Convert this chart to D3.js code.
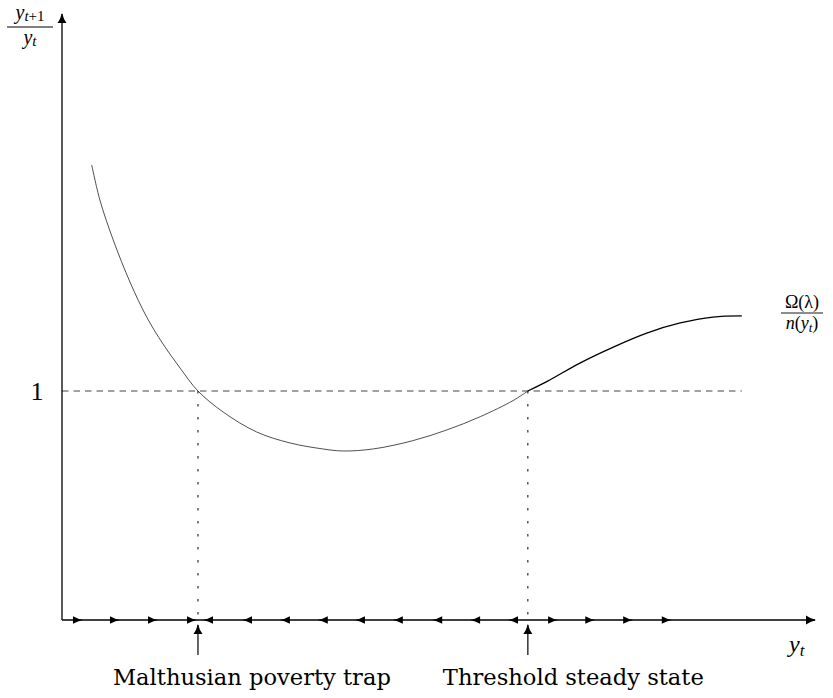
<!DOCTYPE html>
<html>
<head>
<meta charset="utf-8">
<script src="https://cdn.jsdelivr.net/npm/d3@7"></script>
<style>
  body { margin: 0; background: #fff; }
  text { font-family: "Liberation Serif", "DejaVu Serif", serif; fill: #000; }
  .math { font-style: italic; }
  .lab { font-family: "DejaVu Serif", "Liberation Serif", serif; }
</style>
</head>
<body>
<div id="chart-area"></div>
<script>
// curve y_{t+1}/y_t
var curveX = [0.40, 0.51, 0.69, 0.92, 1.14, 1.36, 1.59, 1.83, 2.17, 2.62, 3.07, 3.51, 3.78,
              4.19, 4.72, 5.18, 5.63, 6.07, 6.27, 6.53, 6.97, 7.42, 7.87, 8.32, 8.76, 9.15];
var curveY = [1.987, 1.834, 1.659, 1.472, 1.323, 1.205, 1.100, 1.000, 0.908, 0.821, 0.773, 0.747, 0.738,
              0.747, 0.783, 0.830, 0.888, 0.958, 1.000, 1.042, 1.122, 1.192, 1.253, 1.297, 1.323, 1.328];

// steady states and their labels
var steadyX = [1.83, 6.27];
var steadyLabels = ["Malthusian poverty trap", "Threshold steady state"];

// little flow arrows on the horizontal axis
var arrowsRight = [0.215, 0.713, 1.225, 1.75, 6.61, 7.11, 7.62, 8.14];
var arrowsLeft = [1.965, 2.49, 3.0, 3.51, 4.01, 4.52, 5.05, 5.56, 6.07];

var oneLevel = 1;

var width = 833, height = 698;

var svg = d3.select("#chart-area")
	.append("svg")
		.attr("width", width)
		.attr("height", height);

var x = d3.scaleLinear().domain([0, 10]).range([62, 805]);
var y = d3.scaleLinear().domain([0, 1]).range([620, 391]);

var defs = svg.append("defs");
defs.append("marker")
	.attr("id", "head")
	.attr("viewBox", "0 -5 10 10")
	.attr("refX", 9)
	.attr("refY", 0)
	.attr("markerUnits", "userSpaceOnUse")
	.attr("markerWidth", 11)
	.attr("markerHeight", 10)
	.attr("orient", "auto")
	.append("path")
		.attr("d", "M10,0 Q4,-1.5 0,-4.5 L0,4.5 Q4,1.5 10,0Z")
		.attr("fill", "#000");

// dashed level 1
svg.append("line")
	.attr("x1", x(0)).attr("x2", x(d3.max(curveX)))
	.attr("y1", y(oneLevel)).attr("y2", y(oneLevel))
	.attr("stroke", "#444")
	.attr("stroke-width", 1)
	.attr("stroke-dasharray", "6.5,5");

// dotted drops from the steady states
svg.selectAll(".drop")
	.data(steadyX).enter()
	.append("line")
		.attr("class", "drop")
		.attr("x1", function(d) { return x(d); })
		.attr("x2", function(d) { return x(d); })
		.attr("y1", y(oneLevel))
		.attr("y2", y(0))
		.attr("stroke", "#000")
		.attr("stroke-width", 1)
		.attr("stroke-dasharray", "2.5,10.5");

// curve: thin before the threshold, thicker after it
var pts = curveX.map(function(d, i) { return [d, curveY[i]]; });
var split = curveX.indexOf(steadyX[1]);
var line = d3.line()
	.x(function(d) { return x(d[0]); })
	.y(function(d) { return y(d[1]); })
	.curve(d3.curveCatmullRom.alpha(0.5));

svg.append("path")
	.attr("d", line(pts.slice(0, split + 1)))
	.attr("fill", "none")
	.attr("stroke", "#222")
	.attr("stroke-width", 0.8);

svg.append("path")
	.attr("d", line(pts.slice(split)))
	.attr("fill", "none")
	.attr("stroke", "#000")
	.attr("stroke-width", 1.3);

// axes
svg.append("line")
	.attr("x1", x(0)).attr("y1", y(0))
	.attr("x2", x(0)).attr("y2", 14)
	.attr("stroke", "#000").attr("stroke-width", 1.3)
	.attr("marker-end", "url(#head)");

svg.append("line")
	.attr("x1", x(0)).attr("y1", y(0))
	.attr("x2", 815).attr("y2", y(0))
	.attr("stroke", "#000").attr("stroke-width", 1.3)
	.attr("marker-end", "url(#head)");

// flow arrows
var small = "M5,0 Q0,-1 -5,-3.8 L-5,3.8 Q0,1 5,0Z";
svg.selectAll(".fr")
	.data(arrowsRight).enter()
	.append("path")
		.attr("class", "fr")
		.attr("d", small)
		.attr("transform", function(d) { return "translate(" + x(d) + "," + y(0) + ")"; })
		.attr("fill", "#000");

svg.selectAll(".fl")
	.data(arrowsLeft).enter()
	.append("path")
		.attr("class", "fl")
		.attr("d", small)
		.attr("transform", function(d) { return "translate(" + x(d) + "," + y(0) + ") rotate(180)"; })
		.attr("fill", "#000");

// pointers up to the steady states
svg.selectAll(".ptr")
	.data(steadyX).enter()
	.append("line")
		.attr("class", "ptr")
		.attr("x1", function(d) { return x(d); })
		.attr("x2", function(d) { return x(d); })
		.attr("y1", 655)
		.attr("y2", 625)
		.attr("stroke", "#000")
		.attr("stroke-width", 1.2)
		.attr("marker-end", "url(#head)");

svg.selectAll(".lab")
	.data(steadyLabels).enter()
	.append("text")
		.attr("class", "lab")
		.attr("x", function(d, i) { return x(steadyX[i]) - 85; })
		.attr("y", 685)
		.attr("font-size", "22.6px")
		.attr("text-anchor", "start")
		.text(function(d) { return d; });

// "1" tick label
svg.append("text")
	.attr("x", 37)
	.attr("y", y(oneLevel) + 9)
	.attr("font-size", "26px")
	.attr("text-anchor", "middle")
	.text("1");

// y label: y_{t+1} / y_t
var yl = svg.append("g").attr("transform", "translate(30,0)");
var num = yl.append("text").attr("y", 19).attr("font-size", "20px").attr("text-anchor", "middle");
num.append("tspan").attr("class", "math").text("y");
num.append("tspan").attr("class", "math").attr("font-size", "15px").attr("dy", 2).text("t");
num.append("tspan").attr("font-size", "15px").text("+1");
yl.append("line").attr("x1", -23).attr("x2", 23).attr("y1", 27).attr("y2", 27)
	.attr("stroke", "#000").attr("stroke-width", 1);
var den = yl.append("text").attr("y", 44).attr("font-size", "20px").attr("text-anchor", "middle");
den.append("tspan").attr("class", "math").text("y");
den.append("tspan").attr("class", "math").attr("font-size", "15px").attr("dy", 2).text("t");

// curve label: Omega(lambda) / n(y_t)
var cl = svg.append("g").attr("transform", "translate(802,0)");
cl.append("text").attr("y", 308).attr("font-size", "18px").attr("text-anchor", "middle").text("Ω(λ)");
cl.append("line").attr("x1", -21).attr("x2", 21).attr("y1", 313).attr("y2", 313)
	.attr("stroke", "#000").attr("stroke-width", 0.9);
var cd = cl.append("text").attr("y", 329).attr("font-size", "18px").attr("text-anchor", "middle");
cd.append("tspan").attr("class", "math").text("n");
cd.append("tspan").text("(");
cd.append("tspan").attr("class", "math").text("y");
cd.append("tspan").attr("class", "math").attr("font-size", "13px").attr("dy", 3).text("t");
cd.append("tspan").attr("dy", -3).text(")");

// x label y_t
var xl = svg.append("text").attr("x", 789).attr("y", 652).attr("font-size", "24px");
xl.append("tspan").attr("class", "math").text("y");
xl.append("tspan").attr("class", "math").attr("font-size", "17px").attr("dy", 4).text("t");
</script>
</body>
</html>
